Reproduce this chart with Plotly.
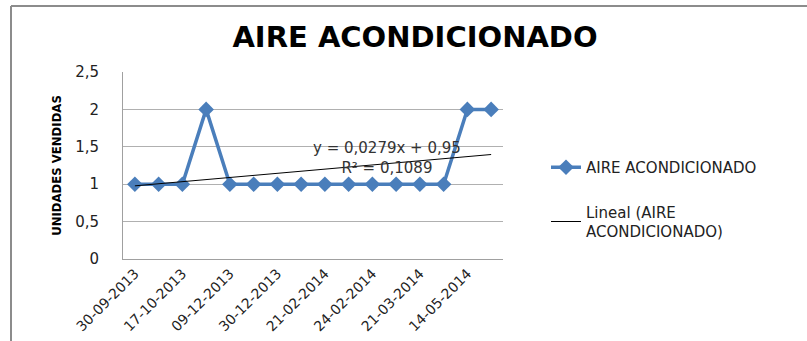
import numpy as np
import plotly.graph_objects as go

# data
periodo = list(range(1, 17))
unidades = [1, 1, 1, 2, 1, 1, 1, 1, 1, 1, 1, 1, 1, 1, 2, 2]
tick_pos = [1, 3, 5, 7, 9, 11, 13, 15]
tick_labels = ["30-09-2013", "17-10-2013", "09-12-2013", "30-12-2013",
               "21-02-2014", "24-02-2014", "21-03-2014", "14-05-2014"]

slope, intercept = np.polyfit(periodo, unidades, 1)
trend = [slope * x + intercept for x in periodo]
pred = np.array(trend)
obs = np.array(unidades)
r2 = 1 - ((obs - pred) ** 2).sum() / ((obs - obs.mean()) ** 2).sum()

fmt = lambda v, d: f"{v:.{d}f}".replace(".", ",")

W, H = 807, 341
L, R, T, B = 123, 304, 72, 82
FONT = "DejaVu Sans"

fig = go.Figure()
fig.add_trace(go.Scatter(
    x=periodo, y=unidades, mode="lines+markers", name="AIRE ACONDICIONADO",
    legendgroup="a",
    line=dict(color="#4A7EBB", width=3.5),
    marker=dict(symbol="diamond", size=12, color="#4A7EBB"),
))
fig.add_trace(go.Scatter(
    x=periodo, y=trend, mode="lines", name="Lineal (AIRE<br>ACONDICIONADO)",
    legendgroup="b",
    line=dict(color="black", width=1),
))

def px2x(p):
    return (p - L) / (W - L - R)

def py2y(p):
    return (H - B - p) / (H - T - B)

fig.add_shape(type="line", xref="paper", yref="paper",
              x0=px2x(11), x1=px2x(807), y0=py2y(6), y1=py2y(6),
              line=dict(color="#8C8C8C", width=2))
fig.add_shape(type="line", xref="paper", yref="paper",
              x0=px2x(11), x1=px2x(11), y0=py2y(6), y1=py2y(341),
              line=dict(color="#8C8C8C", width=2))

fig.add_annotation(
    x=0.5 + (387 - L) / 23.75, y=1.35, xref="x", yref="y",
    text=f"y = {fmt(slope, 4)}x + {fmt(intercept, 2)}<br>R² = {fmt(r2, 4)}",
    showarrow=False, font=dict(family=FONT, size=15, color="#333333"),
    align="center", yanchor="middle",
)

fig.update_layout(
    width=W, height=H,
    margin=dict(l=L, r=R, t=T, b=B, autoexpand=False),
    paper_bgcolor="white", plot_bgcolor="white",
    separators=", ",
    title=dict(text="<b>AIRE ACONDICIONADO</b>", x=(222 + 608) / 2 / W, xanchor="center",
               y=1 - 37 / H, yanchor="middle",
               font=dict(family=FONT, size=29, color="black")),
    xaxis=dict(range=[0.5, 16.5], tickmode="array", tickvals=tick_pos, ticktext=tick_labels,
               tickangle=-45, showgrid=False, showline=True, linecolor="#A0A0A0",
               ticks="", tickfont=dict(family=FONT, size=14, color="#222222"),
               zeroline=False, automargin=False),
    yaxis=dict(range=[0, 2.5], dtick=0.5, tickformat=".1~f", showgrid=True, gridcolor="#B0B0B0",
               showline=True, linecolor="#A0A0A0", zeroline=False, automargin=False,
               ticks="outside", ticklen=20, tickcolor="rgba(0,0,0,0)",
               tickfont=dict(family=FONT, size=15, color="#222222"),
               title=dict(text="<b>UNIDADES VENDIDAS</b>", standoff=10,
                          font=dict(family="DejaVu Sans Condensed", size=13,
                                    color="black"))),
    legend=dict(x=px2x(546), y=py2y(151), xanchor="left", yanchor="top",
                font=dict(family=FONT, size=15, color="#222222"),
                tracegroupgap=22, bgcolor="rgba(0,0,0,0)"),
    showlegend=True,
)

fig.write_html("out.html")
